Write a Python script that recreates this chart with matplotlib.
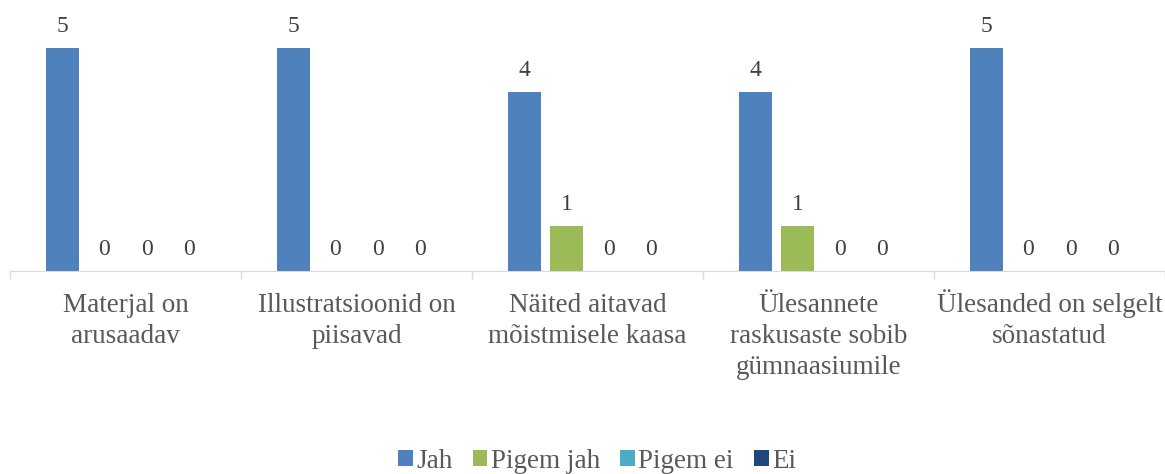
import matplotlib.pyplot as plt
import numpy as np

# -------------------------------
# Data
# -------------------------------
categories = [
    "Materjal on\narusaadav",
    "Illustratsioonid on\npiisavad",
    "Näited aitavad\nmõistmisele kaasa",
    "Ülesannete\nraskusaste sobib\ngümnaasiumile",
    "Ülesanded on selgelt\nsõnastatud",
]
series_names = ["Jah", "Pigem jah", "Pigem ei", "Ei"]
jah = [5, 5, 4, 4, 5]
pigem_jah = [0, 0, 1, 1, 0]
pigem_ei = [0, 0, 0, 0, 0]
ei = [0, 0, 0, 0, 0]

colors = ["#4F81BD", "#9BBB59", "#4BACC6", "#1F497D"]
text_color = "#595959"
axis_color = "#D9D9D9"


def main():
    plt.rcParams['font.family'] = ['Liberation Serif', 'DejaVu Serif']

    fig = plt.figure(figsize=(11.65, 4.74), dpi=100)
    W, H = 1165, 474
    ax_h = 268
    ax = fig.add_axes([10 / W, (H - 271) / H, 1155 / W, ax_h / H])

    x = np.arange(len(categories))
    slot = 0.182
    width = 0.143
    all_series = [jah, pigem_jah, pigem_ei, ei]

    handles = []
    for i, (name, vals) in enumerate(zip(series_names, all_series)):
        pos = x + (i - 1.5) * slot
        bars = ax.bar(pos, vals, width, color=colors[i], label=name)
        handles.append(bars)
        for xp, v in zip(pos, vals):
            ax.annotate(str(v), (xp, v), xytext=(0, 8),
                        textcoords='offset points', ha='center',
                        va='bottom', fontsize=17, color='#404040')

    ax.set_xlim(-0.5, len(categories) - 0.5)
    ax.set_ylim(0, 6)

    # category boundaries as tick marks
    ax.set_xticks(np.arange(len(categories) + 1) - 0.5)
    ax.set_xticklabels([])
    ax.tick_params(axis='x', which='major', length=5.5, color=axis_color, width=1)

    # category labels, line by line so the baselines line up
    tr = ax.get_xaxis_transform()
    first = -(312 - 271) / ax_h
    step = 31 / ax_h
    for xi, label in zip(x, categories):
        for j, line in enumerate(label.split("\n")):
            ax.text(xi, first - j * step, line, transform=tr, ha='center',
                    va='baseline', fontsize=19.5, color=text_color,
                    clip_on=False)

    ax.set_yticks([])
    for side in ['top', 'right', 'left']:
        ax.spines[side].set_visible(False)
    ax.spines['bottom'].set_color(axis_color)

    leg = fig.legend(handles=handles, labels=series_names, loc='center',
                     bbox_to_anchor=(597 / W, 1 - 461 / H), ncol=4,
                     frameon=False, fontsize=19.5, handlelength=0.55,
                     handleheight=0.55, handletextpad=0.12, columnspacing=0.75)
    for t in leg.get_texts():
        t.set_color(text_color)

    fig.savefig("out.png", dpi=100)


if __name__ == "__main__":
    main()
